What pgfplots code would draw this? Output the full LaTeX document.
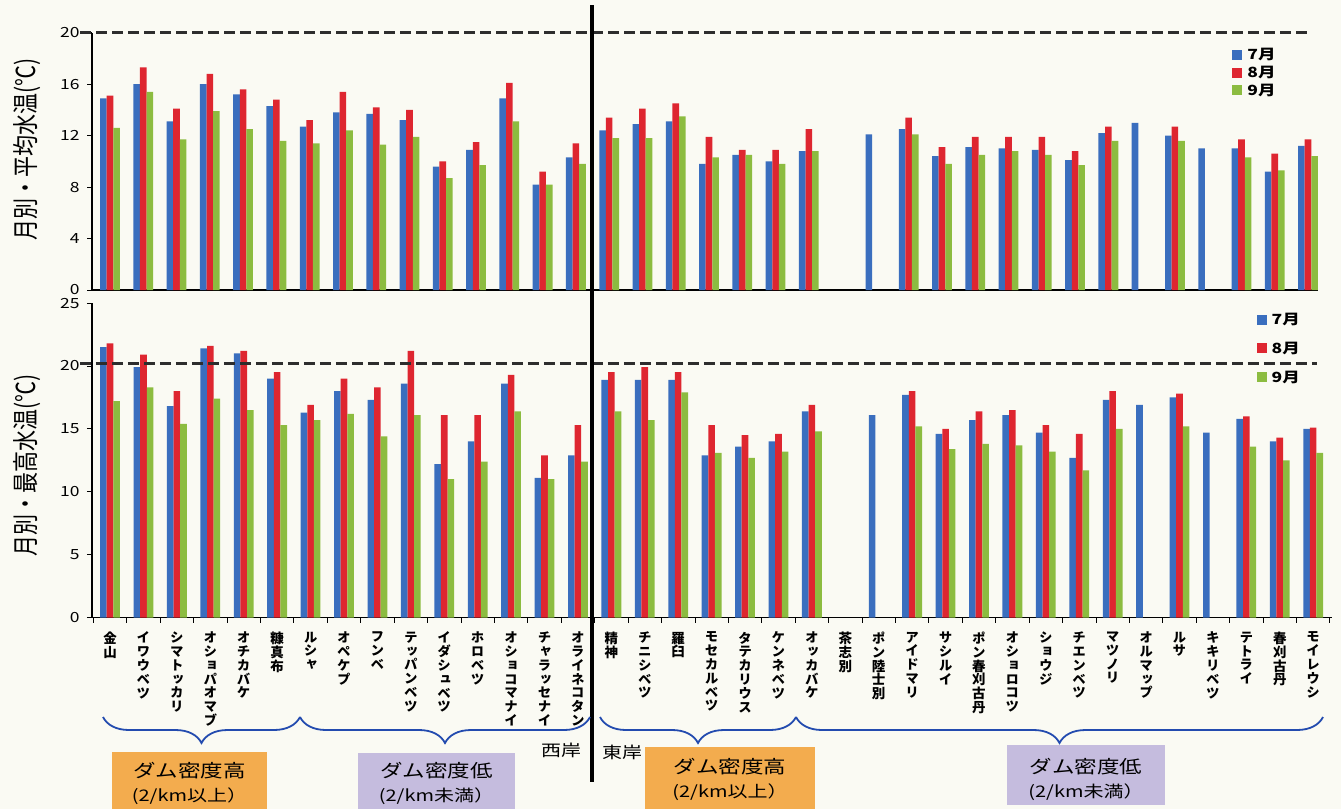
\documentclass[border=0pt]{standalone}
\usepackage{fontspec}
\usepackage{pgfplots}
\pgfplotsset{compat=1.18}
\usetikzlibrary{decorations.pathreplacing}
\setmainfont{Noto Sans CJK JP}[FakeStretch=1.25]
\newfontfamily\plainjp{Noto Sans CJK JP}
\newfontfamily\lblfont{Noto Sans CJK JP}[RawFeature=+vert]

\ExplSyntaxOn
\NewDocumentCommand\vtext{m}{\vbox{\baselineskip=13.8pt\lineskiplimit=-20pt\lineskip=0pt\tl_map_inline:nn{#1}{\hbox~to~15pt{\hss##1\hss}}}}
\ExplSyntaxOff

\definecolor{cB}{RGB}{58,110,190}
\definecolor{cR}{RGB}{222,38,48}
\definecolor{cG}{RGB}{140,188,64}
\definecolor{bg}{RGB}{250,250,243}
\definecolor{dashc}{RGB}{45,45,45}
\definecolor{braceblue}{RGB}{35,75,175}
\definecolor{boxor}{RGB}{243,172,78}
\definecolor{boxpu}{RGB}{197,188,222}

\pgfplotsset{rstyle/.style={
  scale only axis, xmin=-0.54,
  axis x line*=bottom, axis y line*=left,
  axis line style={-, line width=1.1pt, black},
  ybar=0pt, bar width=6.6pt,
  tick align=outside, major tick length=5pt,
  every tick/.style={black, line width=0.8pt},
  /pgf/number format/assume math mode=true,
  yticklabel style={font=\fontsize{14}{14}\selectfont, xshift=-4pt},
  clip=false,
  legend cell align=left,
  legend image code/.code={\fill[##1] (0pt,-5pt) rectangle (10pt,5pt);},
}}

\begin{document}
\begin{tikzpicture}
\useasboundingbox (0pt,0pt) rectangle (1341pt,-809pt);
\fill[bg] (0pt,0pt) rectangle (1341pt,-809pt);

% ---------- top: mean temperature ----------
\begin{axis}[rstyle,
  at={(92pt,-290pt)}, anchor=south west,
  width=1226pt, height=257.3pt,
  xmax=36.3, ymin=0, ymax=20,
  ytick={0,4,...,20}, xtick=\empty,
  ylabel={\plainjp 月別・平均水温(℃)},
  ylabel style={font=\fontsize{21}{21}\selectfont, at={(axis description cs:-0.053,0.545)}, anchor=center, yscale=1.25},
  legend style={at={(axis description cs:0.930,0.948)}, anchor=north west, draw=none, fill=none,
    font=\bfseries\fontsize{14}{14}\selectfont, row sep=1pt, column sep=3pt, inner sep=0pt},
]
\addplot[fill=cB, draw=none] coordinates {(0,14.9) (1,16.0) (2,13.1) (3,16.0) (4,15.2) (5,14.3) (6,12.7) (7,13.8) (8,13.7) (9,13.2) (10,9.6) (11,10.9) (12,14.9) (13,8.2) (14,10.3) (15,12.4) (16,12.9) (17,13.1) (18,9.8) (19,10.5) (20,10.0) (21,10.8) (23,12.1) (24,12.5) (25,10.4) (26,11.1) (27,11.0) (28,10.9) (29,10.1) (30,12.2) (31,13.0) (32,12.0) (33,11.0) (34,11.0) (35,9.2) (36,11.2)};
\addplot[fill=cR, draw=none] coordinates {(0,15.1) (1,17.3) (2,14.1) (3,16.8) (4,15.6) (5,14.8) (6,13.2) (7,15.4) (8,14.2) (9,14.0) (10,10.0) (11,11.5) (12,16.1) (13,9.2) (14,11.4) (15,13.4) (16,14.1) (17,14.5) (18,11.9) (19,10.9) (20,10.9) (21,12.5) (24,13.4) (25,11.1) (26,11.9) (27,11.9) (28,11.9) (29,10.8) (30,12.7) (32,12.7) (34,11.7) (35,10.6) (36,11.7)};
\addplot[fill=cG, draw=none] coordinates {(0,12.6) (1,15.4) (2,11.7) (3,13.9) (4,12.5) (5,11.6) (6,11.4) (7,12.4) (8,11.3) (9,11.9) (10,8.7) (11,9.7) (12,13.1) (13,8.2) (14,9.8) (15,11.8) (16,11.8) (17,13.5) (18,10.3) (19,10.5) (20,9.8) (21,10.8) (24,12.1) (25,9.8) (26,10.5) (27,10.8) (28,10.5) (29,9.7) (30,11.6) (32,11.6) (34,10.3) (35,9.3) (36,10.4)};
\legend{7月,8月,9月}
\draw[dashc, line width=3.5pt, dash pattern=on 11pt off 5pt] (axis cs:-0.9,20) -- (axis cs:36.1,20);
\end{axis}

% ---------- bottom: maximum temperature ----------
\begin{axis}[rstyle,
  at={(92pt,-617.7pt)}, anchor=south west,
  width=1239.5pt, height=314.7pt,
  xmax=36.55, ymin=0, ymax=25,
  ytick={0,5,...,25},
  xtick={-0.5,0.5,...,36.5}, x tick label as interval,
  xticklabels={{\vtext{金山}},{\vtext{イワウベツ}},{\vtext{シマトッカリ}},{\vtext{オショパオマブ}},{\vtext{オチカバケ}},{\vtext{糠真布}},{\vtext{ルシャ}},{\vtext{オペケプ}},{\vtext{フンベ}},{\vtext{テッパンベツ}},{\vtext{イダシュベツ}},{\vtext{ホロベツ}},{\vtext{オショコマナイ}},{\vtext{チャラッセナイ}},{\vtext{オライネコタン}},{\vtext{精神}},{\vtext{チニシベツ}},{\vtext{羅臼}},{\vtext{モセカルベツ}},{\vtext{タテカリウス}},{\vtext{ケンネベツ}},{\vtext{オッカバケ}},{\vtext{茶志別}},{\vtext{ポン陸士別}},{\vtext{アイドマリ}},{\vtext{サシルイ}},{\vtext{ポン春刈古丹}},{\vtext{オショロコツ}},{\vtext{ショウジ}},{\vtext{チエンベツ}},{\vtext{マツノリ}},{\vtext{オルマップ}},{\vtext{ルサ}},{\vtext{キキリベツ}},{\vtext{テトライ}},{\vtext{春刈古丹}},{\vtext{モイレウシ}}},
  xticklabel style={anchor=north, inner sep=0pt, yshift=-9pt, font=\lblfont\bfseries\fontsize{13.5}{13.8}\selectfont},
  ylabel={\plainjp 月別・最高水温(℃)},
  ylabel style={font=\fontsize{21}{21}\selectfont, at={(axis description cs:-0.0525,0.485)}, anchor=center, yscale=1.25},
  legend style={at={(axis description cs:0.9394,0.975)}, anchor=north west, draw=none, fill=none,
    font=\bfseries\fontsize{14}{14}\selectfont, row sep=12pt, column sep=3pt, inner sep=0pt},
]
\addplot[fill=cB, draw=none] coordinates {(0,21.5) (1,19.9) (2,16.8) (3,21.4) (4,21.0) (5,19.0) (6,16.3) (7,18.0) (8,17.3) (9,18.6) (10,12.2) (11,14.0) (12,18.6) (13,11.1) (14,12.9) (15,18.9) (16,18.9) (17,18.9) (18,12.9) (19,13.6) (20,14.0) (21,16.4) (23,16.1) (24,17.7) (25,14.6) (26,15.7) (27,16.1) (28,14.7) (29,12.7) (30,17.3) (31,16.9) (32,17.5) (33,14.7) (34,15.8) (35,14.0) (36,15.0)};
\addplot[fill=cR, draw=none] coordinates {(0,21.8) (1,20.9) (2,18.0) (3,21.6) (4,21.2) (5,19.5) (6,16.9) (7,19.0) (8,18.3) (9,21.2) (10,16.1) (11,16.1) (12,19.3) (13,12.9) (14,15.3) (15,19.5) (16,19.9) (17,19.5) (18,15.3) (19,14.5) (20,14.6) (21,16.9) (24,18.0) (25,15.0) (26,16.4) (27,16.5) (28,15.3) (29,14.6) (30,18.0) (32,17.8) (34,16.0) (35,14.3) (36,15.1)};
\addplot[fill=cG, draw=none] coordinates {(0,17.2) (1,18.3) (2,15.4) (3,17.4) (4,16.5) (5,15.3) (6,15.7) (7,16.2) (8,14.4) (9,16.1) (10,11.0) (11,12.4) (12,16.4) (13,11.0) (14,12.4) (15,16.4) (16,15.7) (17,17.9) (18,13.1) (19,12.7) (20,13.2) (21,14.8) (24,15.2) (25,13.4) (26,13.8) (27,13.7) (28,13.2) (29,11.7) (30,15.0) (32,15.2) (34,13.6) (35,12.5) (36,13.1)};
\legend{7月,8月,9月}
\draw[dashc, line width=3.5pt, dash pattern=on 11pt off 5pt] (axis cs:-0.9,20.2) -- (axis cs:36.1,20.2);
\end{axis}

% ---------- divider, braces, group boxes ----------
\draw[black, line width=4.5pt] (592pt,-5pt) -- (592pt,-782pt);

\begin{scope}[braceblue, line width=1.8pt, decoration={brace, mirror, amplitude=26pt}]
\draw[decorate] (103pt,-717pt) -- (300pt,-717pt);
\draw[decorate] (300pt,-717pt) -- (590pt,-717pt);
\draw[decorate] (600pt,-717pt) -- (796pt,-717pt);
\draw[decorate] (796pt,-717pt) -- (1323pt,-717pt);
\end{scope}

\node[font=\fontsize{16}{16}\selectfont] at (561pt,-750pt) {西岸};
\node[font=\fontsize{16}{16}\selectfont] at (622pt,-752pt) {東岸};

\fill[boxor] (112pt,-752pt) rectangle (267pt,-809pt);
\fill[boxpu] (358pt,-753pt) rectangle (515pt,-809pt);
\fill[boxor] (645pt,-747pt) rectangle (815pt,-809pt);
\fill[boxpu] (1007pt,-745pt) rectangle (1165pt,-805pt);

\node[font=\fontsize{18}{18}\selectfont] at (189.5pt,-771pt) {ダム密度高};
\node[font=\fontsize{16}{16}\selectfont] at (189.5pt,-796pt) {(2/km以上）};
\node[font=\fontsize{18}{18}\selectfont] at (436.5pt,-771pt) {ダム密度低};
\node[font=\fontsize{16}{16}\selectfont] at (436.5pt,-796pt) {(2/km未満）};
\node[font=\fontsize{18}{18}\selectfont] at (730pt,-767pt) {ダム密度高};
\node[font=\fontsize{16}{16}\selectfont] at (730pt,-792pt) {(2/km以上）};
\node[font=\fontsize{18}{18}\selectfont] at (1086pt,-767pt) {ダム密度低};
\node[font=\fontsize{16}{16}\selectfont] at (1086pt,-792pt) {(2/km未満）};
\end{tikzpicture}
\end{document}
